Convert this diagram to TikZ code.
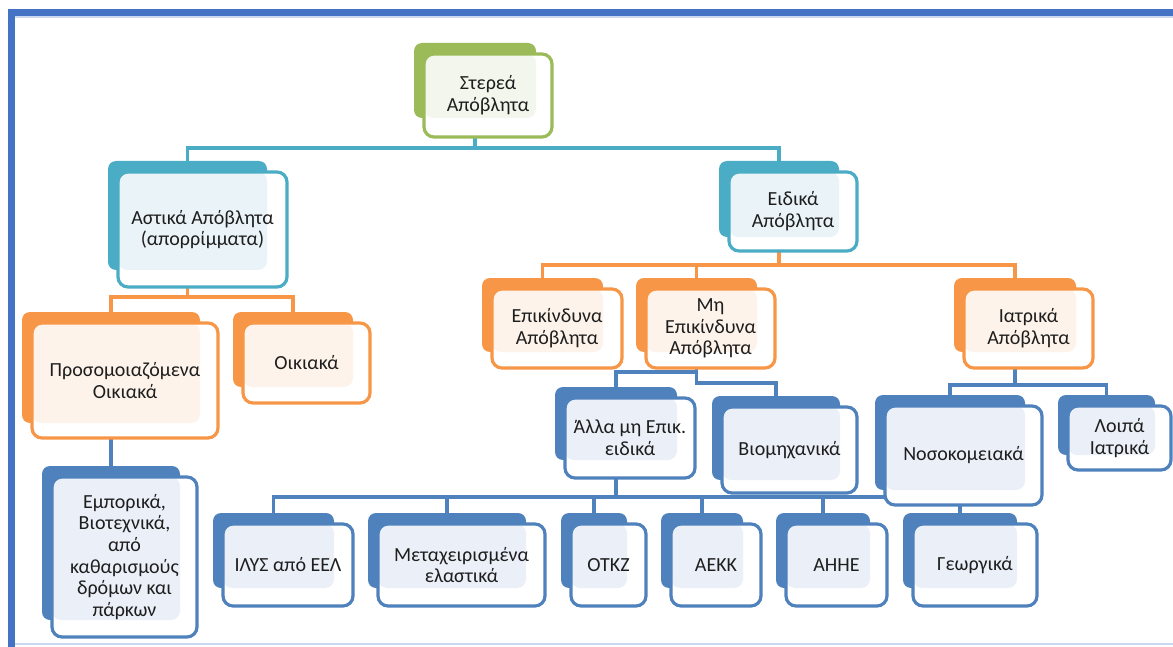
\documentclass[tikz,border=0pt]{standalone}
\usepackage{fontspec}
\setmainfont{Carlito}
\definecolor{cTeal}{HTML}{4BACC6}
\definecolor{cTealtint}{HTML}{EAF4F8}
\definecolor{cOrange}{HTML}{F79646}
\definecolor{cOrangetint}{HTML}{FDF3EA}
\definecolor{cBlue}{HTML}{4F81BD}
\definecolor{cBluetint}{HTML}{EBF0F8}
\definecolor{cGreen}{HTML}{9BBB59}
\definecolor{cGreentint}{HTML}{F3F6EC}
\definecolor{cFrame}{HTML}{4472C4}
\definecolor{cFrameLight}{HTML}{C9D7EF}
\definecolor{txt}{HTML}{1E1E1E}
\pgfdeclarelayer{bg}
\pgfsetlayers{bg,main}
\tikzset{
  backbox/.style={fill=#1, rounded corners=8pt, inner sep=0pt, outer sep=0pt},
  frontbox/.style={draw=#1, line width=3.2pt, rounded corners=10pt, inner sep=0pt, outer sep=0pt,
    align=center, text=txt, font=\fontsize{20}{21.7}\selectfont},
  conn/.style={draw=#1, line width=3.2pt},
}
\newcommand\wbox[9]{%
  \node[backbox=#2, minimum width={(#5-#3)*1pt}, minimum height={(#6-#4)*1pt}] (#1B) at ({(#3+#5)/2},{(#4+#6)/2}) {};
  \fill[white, rounded corners=10pt] ({#3+10},{#4+11}) rectangle (#7,#8);
  \fill[#2tint, rounded corners=9pt] ({#3+10},{#4+11}) rectangle (#5,#6);
  \node[frontbox=#2, minimum width={(#7-#3-10)*1pt}, minimum height={(#8-#4-11)*1pt}] (#1) at ({(#3+10+#7)/2},{(#4+11+#8)/2}) {#9};
}
\begin{document}
\begin{tikzpicture}[x=1pt, y=-1pt]
\useasboundingbox (0,0) rectangle (1173,647);
% frame
\fill[cFrame] (8,9) rectangle (1173,16);
\fill[cFrame] (8,9) rectangle (15,647);
\draw[cFrameLight, line width=1.5pt] (15,17) -- (1173,17);
\draw[cFrameLight, line width=1.5pt] (15,644) -- (1173,644);

% boxes
\wbox{root}{cGreen}{414}{43}{536}{118}{552}{137}{Στερεά\\Απόβλητα}
\wbox{astika}{cTeal}{108}{161}{267}{270}{287}{287}{Αστικά Απόβλητα\\(απορρίμματα)}
\wbox{eidika}{cTeal}{719}{161}{839}{237}{857}{251}{Ειδικά\\Απόβλητα}
\wbox{prosom}{cOrange}{22}{312}{200}{423}{218}{438}{Προσομοιαζόμενα\\Οικιακά}
\wbox{oikiaka}{cOrange}{233}{312}{353}{387}{370}{403}{Οικιακά}
\wbox{epik}{cOrange}{482}{278}{603}{352}{622}{368}{Επικίνδυνα\\Απόβλητα}
\wbox{mhepik}{cOrange}{636}{278}{757}{352}{775}{368}{Μη\\Επικίνδυνα\\Απόβλητα}
\wbox{iatrika}{cOrange}{954}{278}{1076}{352}{1093}{368}{Ιατρικά\\Απόβλητα}
\wbox{alla}{cBlue}{555}{387}{677}{460}{695}{478}{Άλλα μη Επικ.\\ειδικά}
\wbox{viom}{cBlue}{712}{396}{840}{480}{857}{493}{Βιομηχανικά}
\wbox{nosok}{cBlue}{875}{395}{1025}{490}{1042}{505}{Νοσοκομειακά}
\wbox{loipa}{cBlue}{1058}{395}{1155}{455}{1171}{470}{Λοιπά\\Ιατρικά}
\wbox{empor}{cBlue}{42}{466}{180}{620}{197}{637}{Εμπορικά,\\Βιοτεχνικά,\\από\\καθαρισμούς\\δρόμων και\\πάρκων}
\wbox{ilys}{cBlue}{213}{513}{334}{588}{353}{606}{ΙΛΥΣ από ΕΕΛ}
\wbox{metax}{cBlue}{368}{513}{526}{588}{545}{606}{Μεταχειρισμένα\\ελαστικά}
\wbox{otkz}{cBlue}{561}{513}{627}{588}{646}{606}{ΟΤΚΖ}
\wbox{aekk}{cBlue}{661}{513}{743}{588}{761}{606}{ΑΕΚΚ}
\wbox{ahhe}{cBlue}{776}{513}{870}{588}{887}{606}{ΑΗΗΕ}
\wbox{georg}{cBlue}{903}{513}{1017}{588}{1037}{606}{Γεωργικά}

% connectors
\coordinate (busR) at (0,148);
\coordinate (busA) at (0,297);
\coordinate (busE) at (0,265);
\coordinate (busM) at (0,372);
\coordinate (busM2) at (0,383);
\coordinate (busI) at (0,385);
\coordinate (busL) at (0,497);
\begin{pgfonlayer}{bg}
\draw[conn=cTeal] (rootB.center) -- (rootB.center |- busR) -| (astikaB.north);
\draw[conn=cTeal] (rootB.center |- busR) -| (eidikaB.north);
\draw[conn=cOrange] (astikaB.center) -- (astikaB.center |- busA) -| (prosomB.north);
\draw[conn=cOrange] (astikaB.center |- busA) -| (oikiakaB.north);
\draw[conn=cOrange] (eidikaB.center) -- (eidikaB.center |- busE) -| (epikB.north);
\draw[conn=cOrange] (eidikaB.center |- busE) -| (mhepikB.north);
\draw[conn=cOrange] (eidikaB.center |- busE) -| (iatrikaB.north);
\draw[conn=cBlue] (prosomB.center) -- (emporB.north);
\draw[conn=cBlue] (mhepikB.center) -- (mhepikB.center |- busM) -| (allaB.north);
\draw[conn=cBlue] (mhepikB.center |- busM) -- (mhepikB.center |- busM2) -| (viomB.north);
\draw[conn=cBlue] (iatrikaB.center) -- (iatrikaB.center |- busI) -| (nosokB.north);
\draw[conn=cBlue] (iatrikaB.center |- busI) -| (loipaB.north);
\draw[conn=cBlue] (allaB.center) -- (allaB.center |- busL) -| (ilysB.north);
\draw[conn=cBlue] (allaB.center |- busL) -| (metaxB.north);
\draw[conn=cBlue] (allaB.center |- busL) -| (otkzB.north);
\draw[conn=cBlue] (allaB.center |- busL) -| (aekkB.north);
\draw[conn=cBlue] (allaB.center |- busL) -| (ahheB.north);
\draw[conn=cBlue] (allaB.center |- busL) -| (georgB.north);
\end{pgfonlayer}
\end{tikzpicture}
\end{document}
